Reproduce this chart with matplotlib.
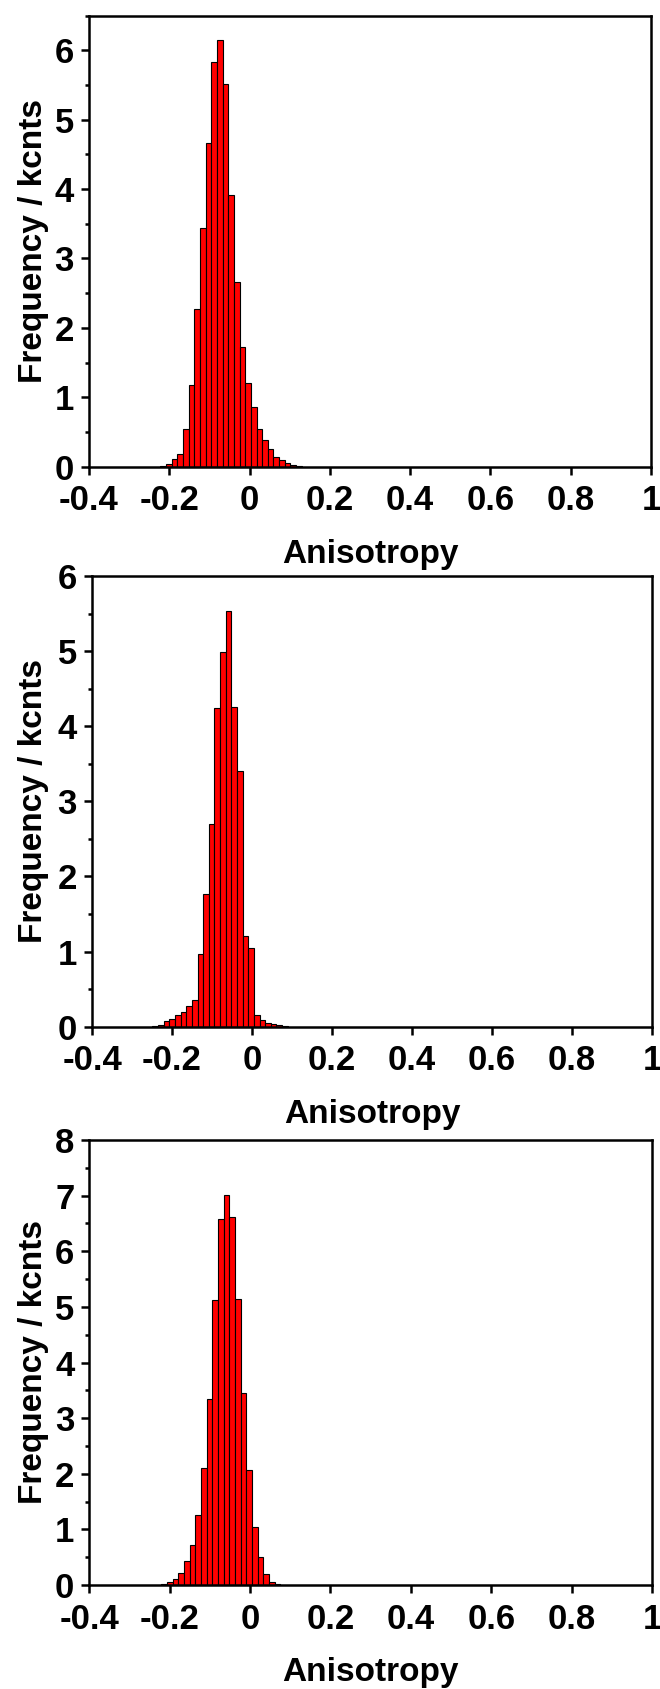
import numpy as np
import matplotlib
matplotlib.use("Agg")
import matplotlib.pyplot as plt
from matplotlib.ticker import MultipleLocator, FixedLocator

plt.rcParams['font.family'] = ['Liberation Sans', 'DejaVu Sans']
plt.rcParams['font.weight'] = 'bold'
plt.rcParams['font.size'] = 24

# histogram data (counts in kcnts)
bin_width = 0.0141

start1 = -0.2224
counts1 = [0.015, 0.043, 0.106, 0.19, 0.55, 1.17, 2.27, 3.44, 4.66, 5.83, 6.15,
           5.52, 3.91, 2.66, 1.72, 1.21, 0.86, 0.55, 0.38, 0.26, 0.135, 0.09,
           0.048, 0.024, 0.012]

start2 = -0.249
counts2 = [0.013, 0.022, 0.075, 0.10, 0.16, 0.19, 0.27, 0.36, 0.97, 1.77, 2.70,
           4.24, 4.99, 5.54, 4.25, 3.40, 1.21, 1.05, 0.16, 0.09, 0.053, 0.031,
           0.022, 0.013]

start3 = -0.2207
counts3 = [0.012, 0.06, 0.10, 0.21, 0.425, 0.72, 1.25, 2.11, 3.35, 5.12, 6.58,
           7.01, 6.62, 5.15, 3.46, 2.07, 1.04, 0.50, 0.19, 0.06, 0.018]

xticks = [-0.4, -0.2, 0, 0.2, 0.4, 0.6, 0.8, 1.0]
xticklabels = ['-0.4', '-0.2', '0', '0.2', '0.4', '0.6', '0.8', '1']

panels = [
    # start, counts, ymax, ytop tick, axes rect in pixels (left, top, right, bottom)
    (start1, counts1, 6.5, 6, (89, 15.5, 651, 466.7)),
    (start2, counts2, 6.0, 6, (92, 576, 652, 1026.7)),
    (start3, counts3, 8.0, 8, (89.3, 1140, 652, 1585)),
]

W, H = 660, 1689
fig = plt.figure(figsize=(W/100, H/100), dpi=100)

for start, counts, ymax, ytop, (l, t, r, b) in panels:
    ax = fig.add_axes([l/W, 1 - b/H, (r - l)/W, (b - t)/H])
    edges = start + bin_width*np.arange(len(counts))
    ax.bar(edges, counts, width=bin_width, align='edge', color='#ff0000',
           edgecolor='black', linewidth=0.8)
    ax.set_xlim(-0.4, 1.0)
    ax.set_ylim(0, ymax)
    ax.xaxis.set_major_locator(FixedLocator(xticks))
    ax.set_xticklabels(xticklabels)
    ax.yaxis.set_minor_locator(MultipleLocator(0.5))
    ax.set_yticks(range(0, ytop + 1))
    for s in ax.spines.values():
        s.set_linewidth(1.8)
    ax.tick_params(axis='both', which='major', direction='out', length=5.8,
                   width=1.8, labelsize=25)
    ax.tick_params(axis='x', pad=7)
    ax.tick_params(axis='y', pad=5)
    ax.tick_params(axis='y', which='minor', direction='out', length=3, width=1.8)
    ax.set_xlabel('Anisotropy', fontsize=24, fontweight='bold')
    ax.set_ylabel('Frequency / kcnts', fontsize=24, fontweight='bold')
    hpx = b - t
    wpx = r - l
    ax.xaxis.set_label_coords(0.5, -72/hpx)
    ax.yaxis.set_label_coords((49 - l)/wpx, 0.5)

fig.savefig('out.png', dpi=100)
